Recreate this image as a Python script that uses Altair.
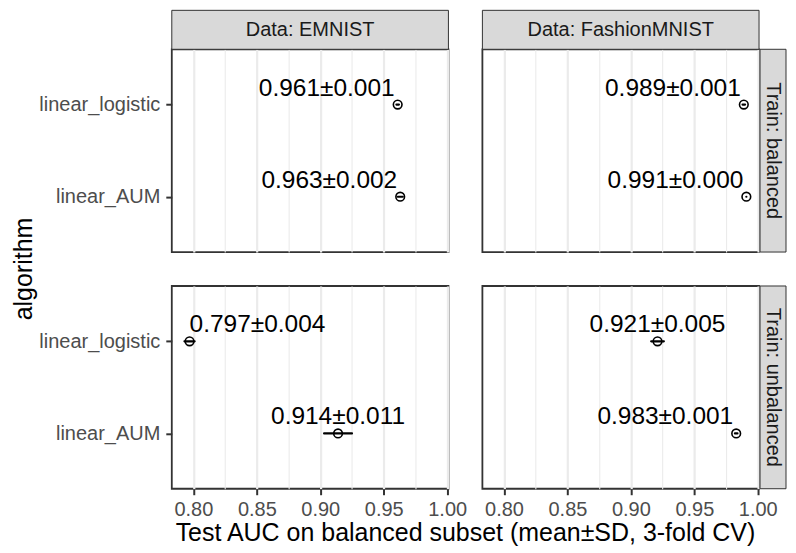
import altair as alt
import pandas as pd

FONT = "Liberation Sans"

datasets = ["EMNIST", "EMNIST", "EMNIST", "EMNIST",
            "FashionMNIST", "FashionMNIST", "FashionMNIST", "FashionMNIST"]
trains = ["balanced", "balanced", "unbalanced", "unbalanced",
          "balanced", "balanced", "unbalanced", "unbalanced"]
algorithms = ["linear_logistic", "linear_AUM"] * 4
means = [0.961, 0.963, 0.797, 0.914, 0.989, 0.991, 0.921, 0.983]
sds = [0.001, 0.002, 0.004, 0.011, 0.001, 0.000, 0.005, 0.001]
algo_order = ["linear_logistic", "linear_AUM"]
data_order = ["EMNIST", "FashionMNIST"]
train_order = ["balanced", "unbalanced"]
x_major = [0.80, 0.85, 0.90, 0.95, 1.00]
x_minor = [0.825, 0.875, 0.925, 0.975]
x_title = "Test AUC on balanced subset (mean±SD, 3-fold CV)"
y_title = "algorithm"

df = pd.DataFrame({
    "data": datasets, "train": trains, "algorithm": algorithms,
    "mean": means, "sd": sds,
})
df["lo"] = df["mean"] - df["sd"]
df["hi"] = df["mean"] + df["sd"]
df["label"] = [f"{m:.3f}±{s:.3f}" for m, s in zip(means, sds)]

W, H = 277, 203
GAP_ROW, GAP_COL = 34, 34
STRIP = 39
RSTRIP = 26
MAJOR = "abs(round(datum.value*1000) % 50) < 1"
GRID_W = {"condition": {"test": MAJOR, "value": 2.2}, "value": 1.1}

xscale = alt.Scale(domain=[0.783, 1.001], nice=False, zero=False)
yscale = alt.Scale(type="point", padding=0.6, domain=algo_order)


def panel(dname, tname):
    top = tname == train_order[0]
    left = dname == data_order[0]
    right = dname == data_order[-1]
    bottom = tname == train_order[-1]

    if bottom:
        xaxis = alt.Axis(
            values=sorted(x_major + x_minor),
            labelExpr="abs(round(datum.value*1000) % 50) < 1 ? format(datum.value, '.2f') : ''",
            gridWidth=GRID_W,
            tickOpacity={"condition": {"test": MAJOR, "value": 1}, "value": 0},
            labelPadding=5, title=None,
        )
    else:
        xaxis = alt.Axis(values=sorted(x_major + x_minor), gridWidth=GRID_W,
                         labels=False, ticks=False, title=None)
    if left:
        yaxis = alt.Axis(gridWidth=2.2, labelPadding=6, title=None)
    else:
        yaxis = alt.Axis(gridWidth=2.2, labels=False, ticks=False, title=None)

    src = alt.Chart(df).transform_filter(
        f"datum.data == '{dname}' && datum.train == '{tname}'"
    )
    yenc = alt.Y("algorithm:N", scale=yscale, axis=yaxis)

    bars = src.mark_rule(color="black", strokeWidth=2.2, strokeCap="round").encode(
        x=alt.X("lo:Q", scale=xscale, axis=xaxis),
        x2="hi:Q",
        y=yenc,
    )
    pts = src.mark_point(shape="circle", filled=False, size=75, strokeWidth=1.6,
                         color="black", opacity=1).encode(
        x=alt.X("mean:Q", scale=xscale, axis=xaxis),
        y=yenc,
    )
    txt = src.mark_text(
        font=FONT, fontSize=24.5, color="black", baseline="alphabetic", dy=-9,
        align=alt.ExprRef(expr="datum.mean < 0.85 ? 'left' : (datum.mean > 0.95 ? 'right' : 'center')"),
        dx=alt.ExprRef(expr="datum.mean > 0.95 ? -3 : 0"),
    ).encode(
        x=alt.X("mean:Q", scale=xscale, axis=xaxis),
        y=yenc,
        text="label:N",
    )
    layers = [bars, pts, txt]

    if top:
        sdf = pd.DataFrame({"strip": ["Data: " + dname]})
        layers.append(alt.Chart(sdf).mark_rect(
            fill="#D9D9D9", stroke="#333333", strokeWidth=1).encode(
            x=alt.value(0), x2=alt.value(W), y=alt.value(-STRIP), y2=alt.value(0)))
        layers.append(alt.Chart(sdf).mark_text(
            font=FONT, fontSize=20, color="#1A1A1A", baseline="middle", align="center").encode(
            x=alt.value(W / 2), y=alt.value(-STRIP / 2), text="strip:N"))
    if right:
        sdf = pd.DataFrame({"strip": ["Train: " + tname]})
        layers.append(alt.Chart(sdf).mark_rect(
            fill="#D9D9D9", stroke="#333333", strokeWidth=1).encode(
            x=alt.value(W + 1), x2=alt.value(W + 1 + RSTRIP), y=alt.value(0), y2=alt.value(H)))
        layers.append(alt.Chart(sdf).mark_text(
            font=FONT, fontSize=20, color="#1A1A1A", baseline="middle", align="center",
            angle=90).encode(
            x=alt.value(W + 1 + RSTRIP / 2), y=alt.value(H / 2), text="strip:N"))
    if left and bottom:
        tdf = pd.DataFrame({"t": [x_title]})
        layers.append(alt.Chart(tdf).mark_text(
            font=FONT, fontSize=25, color="black", baseline="alphabetic", align="center").encode(
            x=alt.value(W + GAP_COL / 2), y=alt.value(H + 52), text="t:N"))
    if left and top:
        tdf = pd.DataFrame({"t": [y_title]})
        layers.append(alt.Chart(tdf).mark_text(
            font=FONT, fontSize=25, color="black", baseline="middle", align="center",
            angle=270).encode(
            x=alt.value(-148), y=alt.value(H + GAP_ROW / 2), text="t:N"))

    return alt.layer(*layers).properties(width=W, height=H)


panels = [panel(d, t) for t in train_order for d in data_order]

chart = alt.concat(
    *panels, columns=2,
    spacing={"row": GAP_ROW, "column": GAP_COL},
    bounds="flush",
).properties(
    padding={"left": 3, "top": 0, "right": 0, "bottom": 0},
).configure_view(
    stroke="#333333", strokeWidth=1.8
).configure_axis(
    labelFont=FONT, labelFontSize=20, labelColor="#4D4D4D",
    tickColor="#333333", tickWidth=2, tickSize=6, domain=False, gridColor="#EBEBEB",
)

chart.save("out.html", embed_options={"renderer": "svg", "actions": False})
